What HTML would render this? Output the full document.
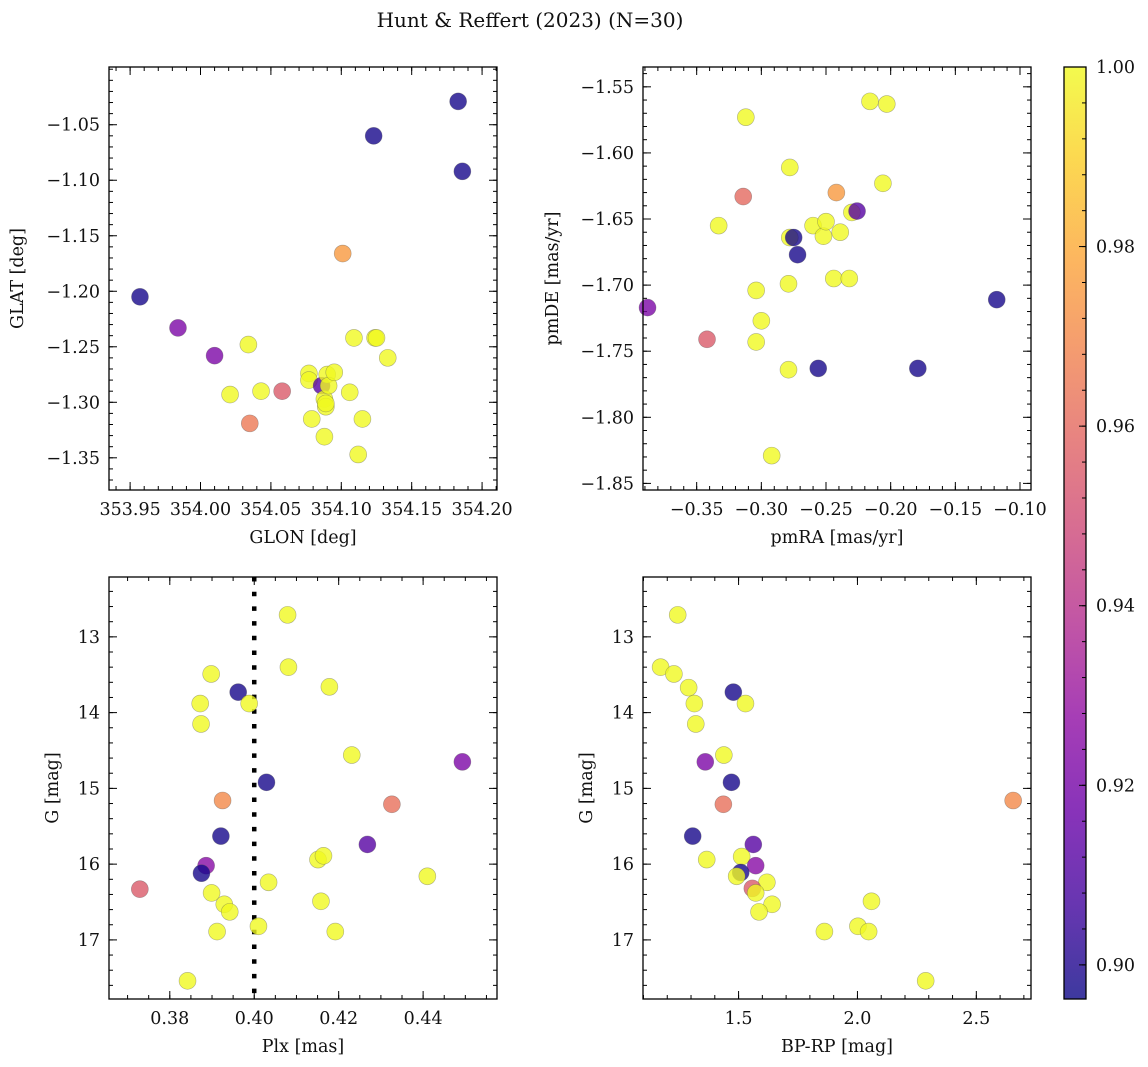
<!DOCTYPE html>
<html><head><meta charset="utf-8"><style>
html,body{margin:0;padding:0;background:#fff;}
svg{display:block;font-family:"DejaVu Serif","Liberation Serif",serif;}
</style></head><body>
<svg id="fig" width="1148" height="1067" viewBox="0 0 1148 1067" xmlns="http://www.w3.org/2000/svg">
<text x="530" y="27" font-size="20" text-anchor="middle" fill="#111">Hunt &amp; Reffert (2023) (N=30)</text>
<defs>
<linearGradient id="plasma" x1="0" y1="1" x2="0" y2="0">
<stop offset="0" stop-color="#0d0887"/><stop offset="0.1" stop-color="#41049d"/><stop offset="0.2" stop-color="#6a00a8"/><stop offset="0.3" stop-color="#8f0da4"/><stop offset="0.4" stop-color="#b12a90"/><stop offset="0.5" stop-color="#cc4778"/><stop offset="0.6" stop-color="#e16462"/><stop offset="0.7" stop-color="#f2844b"/><stop offset="0.8" stop-color="#fca636"/><stop offset="0.9" stop-color="#fcce25"/><stop offset="1" stop-color="#f0f921"/>
</linearGradient>
</defs>
</svg>
<script>
// ---- Panel 1: GLON vs GLAT ----
const glon1 = [353.957,353.984,354.010,354.021,354.034,354.035,354.043,354.058,354.077,354.077,354.079,354.086,354.088,354.088,354.089,354.089,354.090,354.091,354.095,354.101,354.106,354.109,354.112,354.115,354.123,354.124,354.125,354.133,354.183,354.186];
const glat1 = [-1.205,-1.233,-1.258,-1.293,-1.248,-1.319,-1.290,-1.290,-1.274,-1.280,-1.315,-1.285,-1.331,-1.297,-1.304,-1.301,-1.275,-1.285,-1.273,-1.166,-1.291,-1.242,-1.347,-1.315,-1.060,-1.242,-1.242,-1.260,-1.029,-1.092];
const prob1 = [0.898,0.922,0.922,1,1,0.965,1,0.955,1,1,1,0.912,1,1,1,1,1,1,1,0.975,1,1,1,1,0.898,1,1,1,0.898,0.898];
// ---- Panel 2: pmRA vs pmDE ----
const pmra2 = [-0.388,-0.342,-0.312,-0.314,-0.333,-0.304,-0.300,-0.304,-0.292,-0.278,-0.275,-0.272,-0.279,-0.279,-0.256,-0.278,-0.260,-0.252,-0.250,-0.244,-0.242,-0.239,-0.232,-0.230,-0.226,-0.216,-0.203,-0.206,-0.179,-0.118];
const pmde2 = [-1.717,-1.741,-1.573,-1.633,-1.655,-1.704,-1.727,-1.743,-1.829,-1.664,-1.664,-1.677,-1.699,-1.764,-1.763,-1.611,-1.655,-1.663,-1.652,-1.695,-1.630,-1.660,-1.695,-1.645,-1.644,-1.561,-1.563,-1.623,-1.763,-1.711];
const prob2 = [0.922,0.955,1,0.96,1,1,1,1,1,1,0.898,0.898,1,1,0.898,1,1,1,1,1,0.975,1,1,1,0.912,1,1,1,0.898,0.898];
// ---- Panel 3: Plx vs G ----
const plx3 = [0.4079,0.4081,0.3898,0.3962,0.4178,0.3872,0.3988,0.3874,0.4231,0.4493,0.4029,0.3925,0.4326,0.3921,0.4268,0.4151,0.4164,0.3886,0.3875,0.4410,0.4034,0.3729,0.3899,0.3929,0.3942,0.4158,0.4010,0.3912,0.4192,0.3842];
const g3 = [12.71,13.40,13.49,13.73,13.66,13.88,13.88,14.15,14.56,14.65,14.92,15.16,15.21,15.63,15.74,15.94,15.89,16.02,16.12,16.16,16.24,16.33,16.38,16.53,16.63,16.49,16.82,16.89,16.89,17.54];
const prob3 = [1,1,1,0.898,1,1,1,1,1,0.922,0.898,0.97,0.962,0.898,0.912,1,1,0.925,0.898,1,1,0.955,1,1,1,1,1,1,1,1];
// ---- Panel 4: BP-RP vs G ----
const bprp4 = [1.244,1.172,1.228,1.290,1.314,1.320,1.478,1.529,1.360,1.438,1.470,1.436,2.655,1.307,1.562,1.366,1.513,1.572,1.509,1.492,1.619,1.558,1.572,1.641,1.586,2.059,2.002,2.047,1.861,2.287];
const g4 = [12.71,13.40,13.49,13.67,13.88,14.15,13.73,13.88,14.65,14.56,14.92,15.21,15.16,15.63,15.74,15.94,15.90,16.02,16.11,16.16,16.24,16.32,16.38,16.53,16.63,16.49,16.82,16.89,16.89,17.54];
const prob4 = [1,1,1,1,1,1,0.898,1,0.922,1,0.898,0.962,0.97,0.898,0.912,1,1,0.925,0.898,1,1,0.955,1,1,1,1,1,1,1,1];
// ---- Tick labels ----
const ticksX1 = [353.95,354.00,354.05,354.10,354.15,354.20];
const ticksY1 = [-1.05,-1.10,-1.15,-1.20,-1.25,-1.30,-1.35];
const ticksX2 = [-0.35,-0.30,-0.25,-0.20,-0.15,-0.10];
const ticksY2 = [-1.55,-1.60,-1.65,-1.70,-1.75,-1.80,-1.85];
const ticksX3 = [0.38,0.40,0.42,0.44];
const ticksG = [13,14,15,16,17];
const ticksX4 = [1.5,2.0,2.5];
const ticksC = [0.90,0.92,0.94,0.96,0.98,1.00];
const cmin = 0.8962, cmax = 1.0;
const FS = 17.5;

const NS = "http://www.w3.org/2000/svg";
const svg = document.getElementById('fig');
function mk(tag, attrs, parent){const e=document.createElementNS(NS,tag);for(const k in attrs)e.setAttribute(k,attrs[k]);(parent||svg).appendChild(e);return e;}
const stops=[[13,8,135],[65,4,157],[106,0,168],[143,13,164],[177,42,144],[204,71,120],[225,100,98],[242,132,75],[252,166,54],[252,206,37],[240,249,33]];
function plasma(t){t=Math.max(0,Math.min(1,t))*10;const i=Math.min(9,Math.floor(t)),f=t-i;const a=stops[i],b=stops[i+1];return 'rgb('+[0,1,2].map(k=>Math.round(a[k]+(b[k]-a[k])*f)).join(',')+')';}
function minus(s){return s.replace('-','\u2212');}

function panel(cfg){
  const {x0,x1,y0,y1,xmin,xmax,ymin,ymax,name}=cfg;
  const sx=v=>x0+(v-xmin)/(xmax-xmin)*(x1-x0);
  const sy=cfg.invert? (v=>y0+(v-ymin)/(ymax-ymin)*(y1-y0)) : (v=>y1-(v-ymin)/(ymax-ymin)*(y1-y0));
  const g=mk('g',{});
  
  
  const tk=(xa,ya,xb,yb)=>mk('line',{x1:xa,y1:ya,x2:xb,y2:yb,stroke:'#000','stroke-width':1},g);
  const lo=Math.min(xmin,xmax), hi=Math.max(xmin,xmax);
  for(let v=Math.ceil(lo/cfg.xminor-1e-6)*cfg.xminor; v<=hi+1e-9; v+=cfg.xminor){const X=sx(v);tk(X,y1,X,y1-4);tk(X,y0,X,y0+4);}
  const ylo=Math.min(ymin,ymax), yhi=Math.max(ymin,ymax);
  for(let v=Math.ceil(ylo/cfg.yminor-1e-6)*cfg.yminor; v<=yhi+1e-9; v+=cfg.yminor){const Y=sy(v);tk(x0,Y,x0+4,Y);tk(x1,Y,x1-4,Y);}
  cfg.xt.forEach(v=>{const X=sx(v);tk(X,y1,X,y1-8);tk(X,y0,X,y0+8);
    const t=mk('text',{x:X,y:y1+25,'font-size':FS,'text-anchor':'middle',fill:'#111'},g);t.textContent=minus(v.toFixed(cfg.xd));
    
    });
  cfg.yt.forEach(v=>{const Y=sy(v);tk(x0,Y,x0+8,Y);tk(x1,Y,x1-8,Y);
    const t=mk('text',{x:x0-9,y:Y+6,'font-size':FS,'text-anchor':'end',fill:'#111'},g);t.textContent=minus(v.toFixed(cfg.yd));
    
    });
  if(cfg.vline!==undefined){const X=sx(cfg.vline);const l=mk('line',{x1:X,y1:y0,x2:X,y2:y1,stroke:'#000','stroke-width':4.5,'stroke-dasharray':'4.5,10.2'},g);
    
    }
  cfg.xs.forEach((v,i)=>{const c=mk('circle',{cx:sx(v),cy:sy(cfg.ys[i]),r:8.5,fill:plasma((cfg.cs[i]-cmin)/(cmax-cmin)),'fill-opacity':0.8,stroke:'#555','stroke-opacity':0.45,'stroke-width':0.6},g);
    
    });
  mk('rect',{x:x0,y:y0,width:x1-x0,height:y1-y0,fill:'none',stroke:'#000','stroke-width':1.3},g);
  const xl=mk('text',{x:(x0+x1)/2,y:y1+53,'font-size':FS,'text-anchor':'middle',fill:'#111'},g);xl.textContent=cfg.xlabel;
  
  
  const yl=mk('text',{x:cfg.ylx,y:(y0+y1)/2,'font-size':FS,'text-anchor':'middle',fill:'#111',transform:'rotate(-90 '+cfg.ylx+' '+(y0+y1)/2+')'},g);yl.textContent=cfg.ylabel;
  
  
}
panel({name:'glon-glat-panel',x0:109,x1:497,y0:67,y1:490,xmin:353.935,xmax:354.2106,ymin:-1.379,ymax:-0.998,xminor:0.01,yminor:0.01,xt:ticksX1,yt:ticksY1,xd:2,yd:2,xs:glon1,ys:glat1,cs:prob1,xlabel:'GLON [deg]',ylabel:'GLAT [deg]',ylx:23});
panel({name:'pm-panel',x0:643,x1:1031,y0:67,y1:490,xmin:-0.3915,xmax:-0.0915,ymin:-1.855,ymax:-1.535,xminor:0.01,yminor:0.01,xt:ticksX2,yt:ticksY2,xd:2,yd:2,xs:pmra2,ys:pmde2,cs:prob2,xlabel:'pmRA [mas/yr]',ylabel:'pmDE [mas/yr]',ylx:558});
panel({name:'plx-g-panel',x0:109,x1:497,y0:577,y1:999,xmin:0.3656,xmax:0.4575,ymin:12.21,ymax:17.78,invert:true,xminor:0.005,yminor:0.2,xt:ticksX3,yt:ticksG,xd:2,yd:0,xs:plx3,ys:g3,cs:prob3,xlabel:'Plx [mas]',ylabel:'G [mag]',ylx:58,vline:0.40});
panel({name:'cmd-panel',x0:643,x1:1031,y0:577,y1:999,xmin:1.098,xmax:2.73,ymin:12.21,ymax:17.78,invert:true,xminor:0.1,yminor:0.2,xt:ticksX4,yt:ticksG,xd:1,yd:0,xs:bprp4,ys:g4,cs:prob4,xlabel:'BP-RP [mag]',ylabel:'G [mag]',ylx:592});

// colorbar
const cb=mk('g',{});


mk('rect',{x:1064,y:67,width:22,height:932,fill:'url(#plasma)','fill-opacity':0.8},cb);
const cy=v=>999-(v-cmin)/(cmax-cmin)*932;
for(let v=0.9;v<=1.0001;v+=0.004){mk('line',{x1:1086,y1:cy(v),x2:1082,y2:cy(v),stroke:'#000','stroke-width':1},cb);}
ticksC.forEach(v=>{mk('line',{x1:1086,y1:cy(v),x2:1079,y2:cy(v),stroke:'#000','stroke-width':1},cb);
  const t=mk('text',{x:1096,y:cy(v)+6,'font-size':FS,fill:'#111'},cb);t.textContent=v.toFixed(2);
  
  });
mk('rect',{x:1064,y:67,width:22,height:932,fill:'none',stroke:'#000','stroke-width':1.3},cb);
</script>
</body></html>
